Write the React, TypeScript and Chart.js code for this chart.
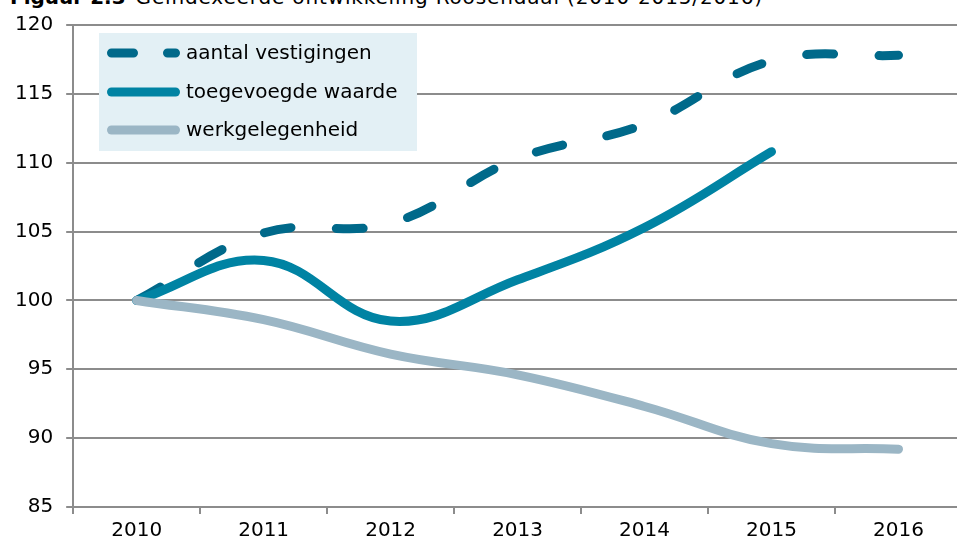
import React, { useEffect, useRef } from "react";
import { Chart, registerables } from "chart.js";

Chart.register(...registerables);

const categories = ["2010", "2011", "2012", "2013", "2014", "2015", "2016"];
const aantalVestigingen = [100, 104.9, 105.6, 110.3, 112.8, 117.4, 117.8];
const toegevoegdeWaarde = [100, 102.9, 98.5, 101.5, 105.3, 110.8, null];
const werkgelegenheid = [100, 98.6, 96.1, 94.6, 92.3, 89.6, 89.2];
const seriesLabels = ["aantal vestigingen", "toegevoegde waarde", "werkgelegenheid"];
const yTicks = [85, 90, 95, 100, 105, 110, 115, 120];

const C_DASH = "#00698a";
const C_SOLID = "#0083a3";
const C_GREY = "#9bb6c5";
const FONT = "'DejaVu Sans', Verdana, sans-serif";

const legendPlugin = {
  id: "customLegend",
  beforeDatasetsDraw(chart: any) {
    const ctx = chart.ctx;
    ctx.save();
    ctx.fillStyle = "#e3f0f5";
    ctx.fillRect(99, 33, 318, 118);
    const rows = [53, 92, 130];
    const colors = [C_DASH, C_SOLID, C_GREY];
    ctx.lineCap = "round";
    ctx.lineWidth = 9;
    rows.forEach((y, i) => {
      ctx.strokeStyle = colors[i];
      ctx.beginPath();
      if (i === 0) {
        ctx.moveTo(111.5, y);
        ctx.lineTo(133.5, y);
        ctx.moveTo(167.5, y);
        ctx.lineTo(175.5, y);
      } else {
        ctx.moveTo(111.5, y);
        ctx.lineTo(175.5, y);
      }
      ctx.stroke();
      ctx.fillStyle = "#000";
      ctx.font = `20px ${FONT}`;
      ctx.textBaseline = "middle";
      ctx.fillText(seriesLabels[i], 186, y + 1);
    });
    ctx.restore();
  },
};

export default function App() {
  const ref = useRef<HTMLCanvasElement>(null);
  useEffect(() => {
    document.body.style.margin = "0";
    document.body.style.overflow = "hidden";
    const chart = new Chart(ref.current!, {
      type: "line",
      data: {
        labels: categories,
        datasets: [
          {
            label: seriesLabels[0],
            data: aantalVestigingen,
            borderColor: C_DASH,
            borderWidth: 9,
            borderDash: [27, 45.5],
            borderCapStyle: "round",
            tension: 0.4,
            pointRadius: 0,
            order: 2,
          },
          {
            label: seriesLabels[1],
            data: toegevoegdeWaarde,
            borderColor: C_SOLID,
            borderWidth: 9,
            borderCapStyle: "round",
            borderJoinStyle: "round",
            tension: 0.4,
            pointRadius: 0,
            order: 1,
          },
          {
            label: seriesLabels[2],
            data: werkgelegenheid,
            borderColor: C_GREY,
            borderWidth: 9,
            borderCapStyle: "round",
            borderJoinStyle: "round",
            tension: 0.4,
            pointRadius: 0,
            order: 0,
          },
        ] as any,
      },
      options: {
        animation: false,
        responsive: false,
        layout: { padding: { top: 23, left: 2, right: 3, bottom: 0 } },
        plugins: { legend: { display: false }, tooltip: { enabled: false } },
        scales: {
          x: {
            offset: true,
            grid: {
              offset: true,
              drawOnChartArea: false,
              drawTicks: true,
              tickLength: 7,
              color: "#8c8c8c",
              lineWidth: 2,
            },
            border: { display: true, color: "#8c8c8c", width: 2 },
            ticks: { color: "#000", font: { family: FONT, size: 20 }, padding: 5 },
          },
          y: {
            min: 85,
            max: 120,
            afterBuildTicks: (axis: any) => {
              axis.ticks = yTicks.map((v) => ({ value: v }));
            },
            grid: { color: "#8c8c8c", lineWidth: 2, tickLength: 7 },
            border: { display: true, color: "#8c8c8c", width: 2 },
            ticks: { color: "#000", font: { family: FONT, size: 20 }, padding: 13 },
          },
        },
      },
      plugins: [legendPlugin],
    });
    return () => chart.destroy();
  }, []);
  return (
    <div style={{ position: "relative", width: 957, height: 543, overflow: "hidden", background: "#fff" }}>
      <div
        style={{
          position: "absolute",
          left: 10,
          top: -13,
          fontFamily: FONT,
          fontSize: 20,
          lineHeight: "20px",
          whiteSpace: "nowrap",
          color: "#000",
        }}
      >
        <b>Figuur 2.3</b>
        <span style={{ marginLeft: 10, letterSpacing: "0.85px" }}>
          Geïndexeerde ontwikkeling Roosendaal (2010-2015/2016)
        </span>
      </div>
      <canvas ref={ref} width={965} height={548} style={{ position: "absolute", left: 0, top: 0 }} />
    </div>
  );
}
